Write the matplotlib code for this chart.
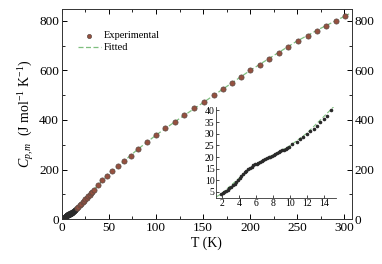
import matplotlib
matplotlib.use("Agg")
import matplotlib.pyplot as plt
from matplotlib.ticker import MultipleLocator

plt.rcParams['font.family'] = ['Liberation Serif', 'DejaVu Serif']
plt.rcParams['mathtext.fontset'] = 'custom'
plt.rcParams['mathtext.rm'] = 'Liberation Serif'
plt.rcParams['mathtext.it'] = 'Liberation Serif:italic'

# Low-temperature data (inset, also shown in main plot)
low_T = [1.9, 2.1, 2.3, 2.5, 2.7, 2.9, 3.1, 3.3, 3.5, 3.7, 3.9, 4.1, 4.3, 4.5,
         4.7, 4.9, 5.1, 5.3, 5.5, 5.7, 5.9, 6.1, 6.3, 6.5, 6.7, 6.9, 7.1, 7.3,
         7.5, 7.7, 7.9, 8.1, 8.3, 8.5, 8.7, 8.9, 9.1, 9.3, 9.5, 9.7, 9.9,
         10.3, 10.8, 11.2, 11.6, 12.0, 12.4, 12.8, 13.2, 13.6, 14.0, 14.4, 14.8]
low_Cp = [4.0, 4.5, 5.0, 5.5, 6.0, 6.5, 7.1, 7.8, 8.6, 9.4, 10.2, 11.1, 12.0, 12.8,
          13.5, 14.2, 14.8, 15.4, 15.9, 16.4, 16.8, 17.2, 17.6, 18.0, 18.4, 18.8, 19.1, 19.5,
          19.9, 20.2, 20.6, 20.9, 21.3, 21.7, 22.0, 22.4, 22.8, 23.2, 23.6, 24.0, 24.4,
          25.4, 26.6, 27.6, 28.7, 29.8, 31.0, 32.2, 33.5, 34.9, 36.3, 37.8, 40.3]

# Experimental data above ~16 K
exp_T = [16, 17.5, 19, 20.5, 22, 23.5, 25, 26.5, 28, 29.5, 31, 32.5, 34, 38, 43, 48,
         53, 60, 66, 73, 81, 90, 100, 110, 120, 130, 140, 151, 162, 171, 181, 190,
         200, 210, 220, 231, 240, 251, 261, 271, 281, 291, 301]
exp_Cp = [45, 50, 56, 62, 68, 74, 80, 86, 92, 98, 104, 110, 116, 137, 158, 174,
          194, 214, 234, 254, 283, 311, 339, 368, 392, 420, 448, 473, 501, 525, 550, 574,
          602, 622, 646, 671, 695, 719, 739, 760, 780, 800, 820]

# Fitted curve
fit_T = [0, 2, 4, 6, 8, 10, 12, 15, 20, 25, 30, 40, 50, 60, 80, 100, 125, 150,
         175, 200, 225, 250, 275, 300, 305]
fit_Cp = [0, 4.3, 10.8, 17.0, 20.8, 24.8, 30.2, 41, 62, 80, 102, 144, 186, 214, 280, 339,
          406, 470, 535, 600, 660, 719, 770, 818, 828]

xticks = [0, 50, 100, 150, 200, 250, 300]
yticks = [0, 200, 400, 600, 800]
inset_xticks = [2, 4, 6, 8, 10, 12, 14]
inset_yticks = [5, 10, 15, 20, 25, 30, 35, 40]

fig = plt.figure(figsize=(3.82, 2.64), dpi=100)
ax = fig.add_axes([0.162, 0.170, 0.759, 0.796])

ax.plot(fit_T, fit_Cp, linestyle=(0, (4, 2)), color='#7fbf7f', lw=0.9,
        label='Fitted', zorder=1)
ax.scatter(low_T, low_Cp, s=9, color='#2a2a2a', zorder=2)
ax.scatter(exp_T, exp_Cp, s=14, facecolor='#95503f', edgecolor='#5a4a44',
           linewidth=0.5, zorder=3, label='Experimental')

ax.set_xlim(0, 308)
ax.set_ylim(0, 848)
ax.set_xticks(xticks)
ax.set_yticks(yticks)
ax.xaxis.set_minor_locator(MultipleLocator(25))
ax.yaxis.set_minor_locator(MultipleLocator(100))
ax.tick_params(which='both', direction='in', top=True, right=True,
               labelright=True, labelsize=9.5, pad=2)
ax.tick_params(which='major', length=3.5, width=0.7)
ax.tick_params(which='minor', length=2, width=0.6)
for s in ax.spines.values():
    s.set_linewidth(0.7)
    s.set_color('#333333')

ax.set_xlabel('T (K)', fontsize=10, labelpad=2)
ax.set_ylabel(r'$C_{p,m}$  (J mol$^{-1}$ K$^{-1}$)', fontsize=10, labelpad=2)

handles, labels = ax.get_legend_handles_labels()
ax.legend(handles[::-1], labels[::-1], loc='upper left', frameon=False,
          fontsize=7.5, handlelength=2.2, handletextpad=0.3, labelspacing=0.25,
          bbox_to_anchor=(0.03, 0.93), borderaxespad=0.3, markerscale=0.8)

ins = fig.add_axes([0.565, 0.25, 0.314, 0.345])
ins.plot(fit_T, fit_Cp, linestyle=(0, (4, 2)), color='#7fbf7f', lw=0.8, zorder=1)
ins.scatter(low_T, low_Cp, s=2.5, color='#2a2a2a', zorder=2)
ins.set_xlim(1.3, 15.4)
ins.set_ylim(2.4, 41.5)
ins.set_xticks(inset_xticks)
ins.set_yticks(inset_yticks)
ins.spines['top'].set_visible(False)
ins.spines['right'].set_visible(False)
for s in ['left', 'bottom']:
    ins.spines[s].set_linewidth(0.6)
    ins.spines[s].set_color('#333333')
ins.tick_params(direction='in', length=2, width=0.5, labelsize=7, pad=1)
ins.patch.set_alpha(0)

fig.savefig('out.png', dpi=100)
